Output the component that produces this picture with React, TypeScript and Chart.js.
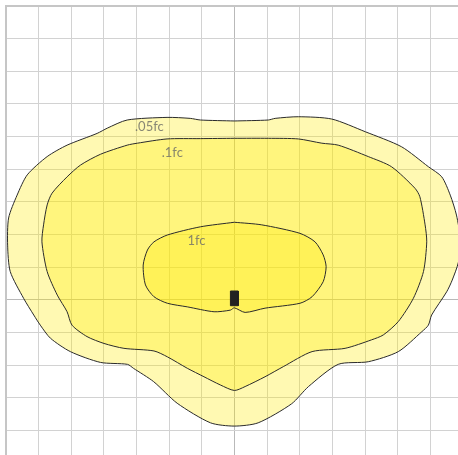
import React, { useEffect, useRef } from "react";
import { Chart, registerables } from "chart.js";

Chart.register(...registerables);

// Contour values (grid = 10 units, luminaire at origin)
const outerX = [0, 10.4, 12.5, 19.6, 29.8, 40.1, 51.2, 59.4, 63.5, 66.1, 68.0, 69.2, 68.6, 66.7, 65.0, 60.4, 59.4, 57.4, 50.2, 41.0, 31.8, 22.7, 17.5, 7.3, 0, -7.3, -17.5, -24.7, -30.9, -32.7, -41.0, -50.2, -56.3, -59.4, -61.4, -64.5, -68.6, -69.4, -69.1, -66.5, -63.4, -57.3, -51.2, -42.0, -38.9, -32.8, -20.6, -13.5, -10.4, 0];
const outerY = [54.7, 55.0, 55.5, 56.0, 55.3, 51.4, 46.8, 40.7, 37.6, 32.0, 25.9, 18.3, 11.5, 6.0, 2.4, -4.7, -7.8, -9.8, -15.9, -19.0, -19.8, -26.6, -31.9, -37.7, -38.7, -37.7, -31.7, -25.1, -21.0, -19.8, -19.2, -15.9, -11.8, -7.8, -4.7, 0.4, 8.6, 16.7, 25.0, 32.0, 38.2, 43.8, 47.3, 50.9, 52.5, 55.0, 55.8, 55.5, 55.0, 54.7];

const middleX = [0, 10.4, 19.6, 26.8, 31.8, 41.0, 48.1, 55.3, 56.8, 58.4, 58.9, 57.9, 54.8, 50.2, 45.6, 42.0, 33.9, 23.8, 15.0, 9.4, 3.3, 0, -4.3, -9.3, -14.4, -20.5, -24.6, -33.8, -39.9, -45.1, -49.7, -51.2, -54.2, -57.3, -58.9, -58.4, -57.3, -55.8, -51.2, -47.1, -41.0, -32.8, -29.7, -20.6, -10.4, 0];
const middleY = [49.4, 49.4, 49.2, 47.9, 47.3, 43.8, 40.7, 34.1, 31.5, 22.9, 17.7, 8.6, 0.4, -6.7, -10.8, -12.3, -14.9, -15.9, -20.5, -23.6, -26.6, -27.8, -26.1, -23.6, -21.0, -17.5, -15.7, -14.9, -13.4, -11.3, -7.8, -3.7, 1.4, 8.6, 17.7, 22.9, 29.0, 32.6, 37.6, 41.2, 44.5, 47.3, 47.9, 49.2, 49.3, 49.4];

const innerX = [0, 8.4, 20.1, 24.7, 27.2, 28.1, 27.2, 23.8, 20.1, 9.4, 3.3, 0, -1.2, -6.2, -14.4, -20.5, -24.6, -27.2, -27.9, -26.6, -24.6, -20.5, -10.4, 0];
const innerY = [23.7, 22.9, 20.3, 17.7, 13.7, 10.1, 5.5, 0.9, -1.1, -2.6, -3.9, -2.5, -3.2, -3.7, -2.2, -1.1, 0.9, 4.5, 10.6, 15.2, 17.7, 19.8, 22.3, 23.7];

const lumX = [-1.2, 1.2, 1.2, -1.2, -1.2];
const lumY = [2.65, 2.65, -1.85, -1.85, 2.65];

const labelTexts = [".05fc", ".1fc", "1fc"];
const labelX = [-26.0, -19.0, -11.6];
const labelY = [52.8, 45.0, 18.0];

const xMin = -70, xMax = 70, yMin = -50, yMax = 90, step = 10;

const pts = (xs: number[], ys: number[]) => xs.map((x, i) => ({ x, y: ys[i] }));

const labelPlugin = {
  id: "contourLabels",
  afterDatasetsDraw(chart: any) {
    const { ctx, scales } = chart;
    ctx.save();
    ctx.font = '13px Lato, "Open Sans", sans-serif';
    ctx.fillStyle = "rgba(115,115,105,0.85)";
    ctx.textAlign = "center";
    ctx.textBaseline = "middle";
    labelTexts.forEach((t, i) => {
      ctx.fillText(t, scales.x.getPixelForValue(labelX[i]), scales.y.getPixelForValue(labelY[i]));
    });
    ctx.restore();
  },
};

export default function App() {
  const ref = useRef<HTMLCanvasElement>(null);
  useEffect(() => {
    if (!ref.current) return;
    const contour = (data: any, bg: string) => ({
      data,
      showLine: true,
      fill: "shape",
      backgroundColor: bg,
      borderColor: "#2a2a2a",
      borderWidth: 1,
      pointRadius: 0,
      tension: 0.25,
    });
    const gridColor = (c: any) => (c.tick && c.tick.value === 0 ? "#b9b9b9" : "#d2d2d2");
    const chart = new Chart(ref.current, {
      type: "scatter",
      data: {
        datasets: [
          { ...contour(pts(lumX, lumY), "#222222"), borderColor: "#222222", tension: 0 },
          contour(pts(innerX, innerY), "rgba(255,235,0,0.3)"),
          contour(pts(middleX, middleY), "rgba(255,235,0,0.3)"),
          contour(pts(outerX, outerY), "rgba(255,235,0,0.3)"),
        ] as any,
      },
      options: {
        animation: false,
        responsive: false,
        maintainAspectRatio: false,
        layout: { padding: { left: 5.67, top: 5.67, right: 7, bottom: 7 } },
        plugins: { legend: { display: false }, tooltip: { enabled: false } },
        scales: {
          x: {
            type: "linear",
            position: "top",
            min: xMin,
            max: xMax,
            ticks: { display: false, stepSize: step },
            grid: { color: gridColor, lineWidth: 1, drawTicks: false },
            border: { color: "#c6c6c6", width: 2 },
          },
          y: {
            type: "linear",
            position: "left",
            min: yMin,
            max: yMax,
            ticks: { display: false, stepSize: step },
            grid: { color: gridColor, lineWidth: 1, drawTicks: false },
            border: { color: "#c6c6c6", width: 2 },
          },
        },
      } as any,
      plugins: [labelPlugin],
    });
    return () => chart.destroy();
  }, []);
  return (
    <div style={{ position: "fixed", left: 0, top: 0, width: 458, height: 455, overflow: "hidden", background: "#fff" }}>
      <canvas ref={ref} width={470} height={470} style={{ display: "block" }} />
    </div>
  );
}
